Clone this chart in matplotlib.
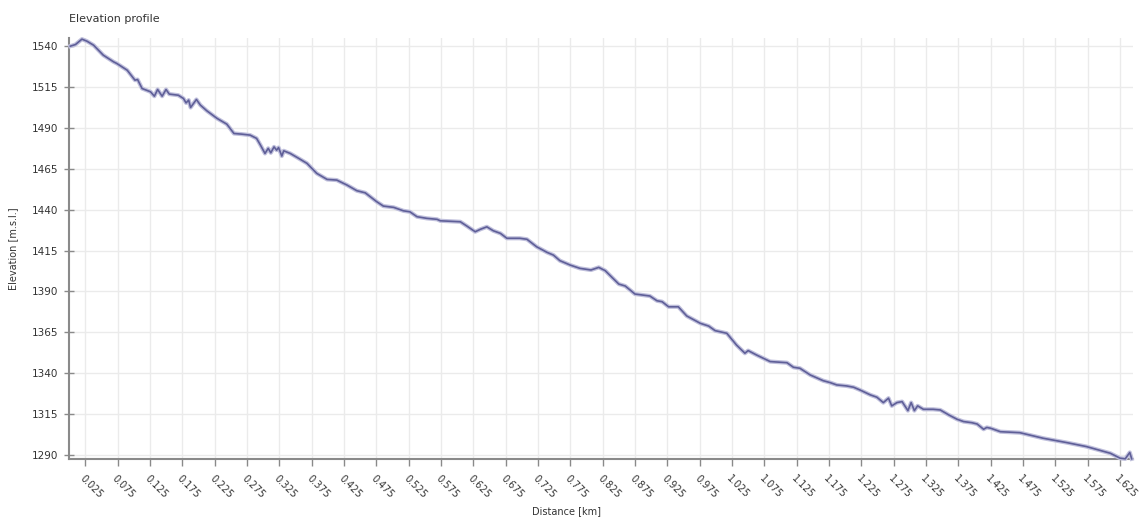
import matplotlib
matplotlib.use("Agg")
import matplotlib.pyplot as plt
import numpy as np

distance_km = [0.002, 0.010, 0.020, 0.028, 0.038, 0.053, 0.069, 0.074, 0.090, 0.102, 0.106,
               0.113, 0.126, 0.132, 0.137, 0.144, 0.150, 0.155, 0.169, 0.177, 0.181, 0.185,
               0.188, 0.197, 0.203, 0.213, 0.229, 0.244, 0.255, 0.267, 0.280, 0.290, 0.296,
               0.303, 0.308, 0.312, 0.317, 0.321, 0.324, 0.329, 0.332, 0.342, 0.355, 0.368,
               0.383, 0.399, 0.414, 0.430, 0.445, 0.458, 0.476, 0.486, 0.502, 0.517, 0.527,
               0.538, 0.553, 0.569, 0.574, 0.605, 0.615, 0.628, 0.636, 0.646, 0.656, 0.667,
               0.677, 0.697, 0.708, 0.723, 0.739, 0.749, 0.759, 0.775, 0.790, 0.807, 0.819,
               0.829, 0.850, 0.860, 0.875, 0.898, 0.909, 0.917, 0.927, 0.942, 0.955, 0.976,
               0.989, 0.999, 1.017, 1.032, 1.045, 1.050, 1.063, 1.084, 1.110, 1.120, 1.130,
               1.146, 1.166, 1.177, 1.187, 1.202, 1.213, 1.223, 1.239, 1.249, 1.259, 1.267,
               1.272, 1.280, 1.288, 1.297, 1.302, 1.307, 1.312, 1.321, 1.336, 1.347, 1.360,
               1.373, 1.383, 1.396, 1.404, 1.414, 1.419, 1.425, 1.440, 1.470, 1.506, 1.543,
               1.573, 1.610, 1.625, 1.633, 1.640, 1.643]
elevation_m = [1540.0, 1541.0, 1544.3, 1543.0, 1540.6, 1534.5, 1530.4, 1529.4, 1525.3, 1519.2, 1519.6,
               1514.1, 1512.1, 1509.4, 1513.5, 1509.4, 1513.5, 1510.7, 1510.0, 1508.0, 1505.3, 1507.0,
               1502.5, 1507.4, 1504.0, 1500.5, 1495.8, 1492.3, 1486.6, 1486.2, 1485.6, 1483.6, 1479.5,
               1474.4, 1477.5, 1474.8, 1478.4, 1476.4, 1478.0, 1472.8, 1476.0, 1474.4, 1471.4, 1468.3,
               1462.2, 1458.5, 1458.1, 1455.0, 1451.6, 1450.3, 1444.8, 1442.2, 1441.4, 1439.3, 1438.7,
               1435.7, 1434.7, 1434.1, 1433.2, 1432.6, 1430.0, 1426.5, 1428.0, 1429.5, 1427.1, 1425.5,
               1422.5, 1422.5, 1421.9, 1417.3, 1413.9, 1412.2, 1408.8, 1406.1, 1404.1, 1403.1, 1404.7,
               1402.7, 1394.5, 1393.3, 1388.4, 1387.2, 1384.3, 1383.7, 1380.6, 1380.6, 1375.0, 1370.5,
               1368.8, 1366.0, 1364.4, 1357.2, 1352.2, 1353.8, 1351.1, 1347.1, 1346.4, 1343.6, 1343.0,
               1338.9, 1335.4, 1334.2, 1332.8, 1332.2, 1331.4, 1329.7, 1326.7, 1325.3, 1322.0, 1324.7,
               1320.0, 1322.0, 1322.6, 1317.1, 1322.0, 1317.1, 1320.0, 1317.9, 1317.9, 1317.5, 1314.5,
               1311.8, 1310.4, 1309.7, 1308.9, 1305.7, 1306.8, 1306.3, 1304.2, 1303.6, 1300.2, 1297.5,
               1295.1, 1291.0, 1288.0, 1287.6, 1291.5, 1287.6]

x_ticks = [0.025, 0.075, 0.125, 0.175, 0.225, 0.275, 0.325, 0.375, 0.425, 0.475, 0.525,
           0.575, 0.625, 0.675, 0.725, 0.775, 0.825, 0.875, 0.925, 0.975, 1.025, 1.075,
           1.125, 1.175, 1.225, 1.275, 1.325, 1.375, 1.425, 1.475, 1.525, 1.575, 1.625]
y_ticks = [1290, 1315, 1340, 1365, 1390, 1415, 1440, 1465, 1490, 1515, 1540]

W, H = 1146, 518
fig = plt.figure(figsize=(W / 100, H / 100), dpi=100)
left, right, top, bottom = 69, 1133, 38, 459
ax = fig.add_axes([left / W, 1 - bottom / H, (right - left) / W, (bottom - top) / H])

text_color = "#333333"
axis_color = "#8a8a8a"

ax.plot(distance_km, elevation_m, color="#c0c0dc", linewidth=3.0, solid_joinstyle="round", clip_on=False, zorder=3)
ax.plot(distance_km, elevation_m, color="#5f5f98", linewidth=1.2, solid_joinstyle="round", clip_on=False, zorder=4)

ax.set_xlim(0.0, 1.645)
ax.set_ylim(1287.5, 1545)
ax.set_xticks(x_ticks)
ax.set_xticklabels([f"{t:.3f}" for t in x_ticks], rotation=-45, ha="left", va="top",
                   rotation_mode="anchor", fontsize=7, color=text_color)
ax.set_yticks(y_ticks)
ax.set_yticklabels([str(t) for t in y_ticks], fontsize=7.5, color=text_color)

ax.grid(True, color="#ebebeb", linewidth=1.0)
ax.set_axisbelow(True)
for s in ["top", "right"]:
    ax.spines[s].set_visible(False)
for s in ["left", "bottom"]:
    ax.spines[s].set_color(axis_color)
    ax.spines[s].set_linewidth(1.5)

ax.tick_params(axis="y", direction="inout", length=7, width=1, color=axis_color, pad=4)
ax.tick_params(axis="x", direction="out", length=5, width=1, color=axis_color, pad=5)

fig.text(567 / W, 1 - 511 / H, "Distance [km]", fontsize=7, color=text_color, ha="center", va="center")
ax.set_ylabel("Elevation [m.s.l.]", fontsize=7, color=text_color, labelpad=10)
fig.text(69 / W, 1 - 19 / H, "Elevation profile", fontsize=8, color=text_color, va="center", ha="left")

fig.savefig("out.png", dpi=100, facecolor="white")
